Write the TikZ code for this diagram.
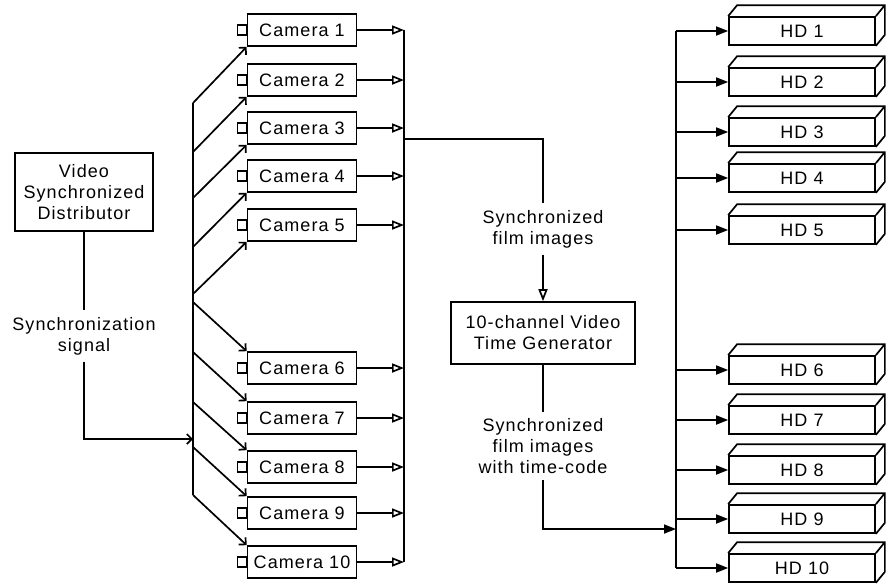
\documentclass[tikz,border=0pt]{standalone}
\usepackage{fontspec}
\setmainfont{Liberation Sans}[LetterSpace=6]
\usetikzlibrary{arrows.meta}

\begin{document}
\begin{tikzpicture}[x=1pt,y=-1pt,line width=1.7pt,
    font=\fontsize{18}{21}\selectfont,
    feed/.style={-{Straight Barb[length=5pt,width=10pt]}},
    opentip/.style={-{Triangle[open,length=12pt,width=9pt]}},
    fulltip/.style={-{Triangle[length=12pt,width=9pt]}}]

      \useasboundingbox (0,0) rectangle (893,584);

      % distributor and time generator
      \begin{scope}[every node/.style={rectangle,draw,align=center,inner sep=0pt}]
        \node[minimum width=138,minimum height=78] (vsd) at (84,192) {Video\\Synchronized\\Distributor};
        \node[minimum width=184,minimum height=62] (gen) at (543,333) {10-channel Video\\Time Generator};
      \end{scope}

      % cameras
      \begin{scope}[every node/.style={rectangle,draw,inner sep=0pt,minimum width=109,minimum height=32}]
        \node (cam1)  at (302,30)  {Camera 1};
        \node (cam2)  at (302,80)  {Camera 2};
        \node (cam3)  at (302,128) {Camera 3};
        \node (cam4)  at (302,176) {Camera 4};
        \node (cam5)  at (302,225) {Camera 5};
        \node (cam6)  at (302,368) {Camera 6};
        \node (cam7)  at (302,418) {Camera 7};
        \node (cam8)  at (302,467) {Camera 8};
        \node (cam9)  at (302,513) {Camera 9};
        \node (cam10) at (302,562) {Camera 10};
      \end{scope}

      % hard disks
      \begin{scope}[every node/.style={rectangle,draw,inner sep=0pt,minimum width=146,minimum height=28}]
        \node (hd1)  at (802,31)  {HD 1};
        \node (hd2)  at (802,82)  {HD 2};
        \node (hd3)  at (802,132) {HD 3};
        \node (hd4)  at (802,178) {HD 4};
        \node (hd5)  at (802,230) {HD 5};
        \node (hd6)  at (802,370) {HD 6};
        \node (hd7)  at (802,420) {HD 7};
        \node (hd8)  at (802,470) {HD 8};
        \node (hd9)  at (802,519) {HD 9};
        \node (hd10) at (802,568) {HD 10};
      \end{scope}

      % signal labels
      \begin{scope}[every node/.style={align=center,inner sep=6pt}]
        \node (sig)   at (84,336)  {Synchronization\\signal};
        \node (film)  at (543,229) {Synchronized\\film images};
        \node (coded) at (543,446) {Synchronized\\film images\\with time-code};
      \end{scope}

      % bus points
      \coordinate (in)  at (193,439);
      \coordinate (s1)  at (193,103);
      \coordinate (s2)  at (193,152);
      \coordinate (s3)  at (193,198);
      \coordinate (s4)  at (193,247);
      \coordinate (s5)  at (193,294);
      \coordinate (s6)  at (193,302);
      \coordinate (s7)  at (193,352);
      \coordinate (s8)  at (193,402);
      \coordinate (s9)  at (193,447);
      \coordinate (s10) at (193,495);
      \coordinate (otop) at (404,30);
      \coordinate (obot) at (404,562);
      \coordinate (tap)  at (404,139);
      \coordinate (htop) at (676,31);
      \coordinate (hbot) at (676,568);
      \coordinate (hin)  at (676,529);

      % sync distribution
      \draw (vsd) -- (sig);
      \draw[feed] (sig) |- (in);
      \draw (s1) -- (s10);
      \foreach \i in {1,...,5}
        \draw[feed] (s\i) -- (cam\i.south west);
      \foreach \i in {6,...,10}
        \draw[feed] (s\i) -- (cam\i.north west);

      % camera plugs and outputs
      \foreach \i in {1,...,10} {
        \draw[line width=1.3pt] (cam\i.west) ++(0,-5) rectangle ++(-9,10);
        \draw[opentip] (cam\i.east) -- (cam\i.east -| otop);
      }
      \draw (otop) -- (obot);
      \draw (tap) -| (film);
      \draw[opentip] (film) -- (gen);
      \draw (gen) -- (coded);
      \draw[fulltip] (coded) |- (hin);

      % recording
      \draw (htop) -- (hbot);
      \foreach \i in {1,...,10} {
        \draw[fulltip] (hd\i.west -| htop) -- (hd\i.west);
        \draw (hd\i.north west) -- ++(9,-11) -| ([shift={(9,-11)}]hd\i.south east) -- (hd\i.south east)
              (hd\i.north east) -- ++(9,-11);
      }

    \end{tikzpicture}
\end{document}
